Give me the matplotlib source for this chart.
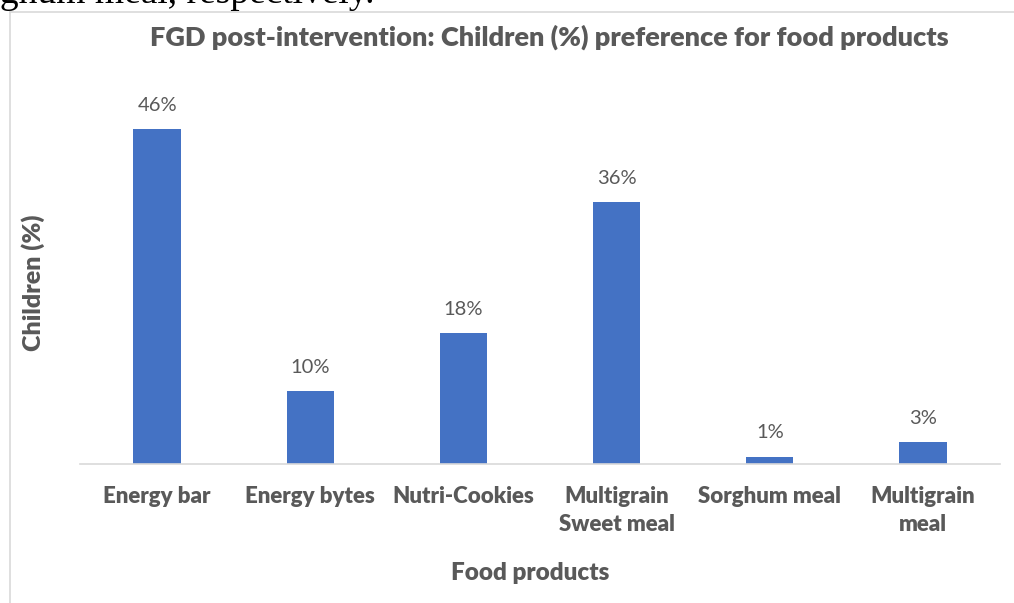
import matplotlib.pyplot as plt
from matplotlib.lines import Line2D

# Data
products = ["Energy bar", "Energy bytes", "Nutri-Cookies",
            "Multigrain\nSweet meal", "Sorghum meal", "Multigrain\nmeal"]
children_pct = [46, 10, 18, 36, 1, 3]

W, H = 1014, 603
bar_color = "#4472C4"
text_color = "#595959"
font = ["Lato", "DejaVu Sans"]
bold = "heavy"

fig = plt.figure(figsize=(W / 100, H / 100), dpi=100)
ax = fig.add_axes([80.5 / W, 1 - 464 / H, 919 / W, 364 / H])

x = range(len(products))
bars = ax.bar(x, children_pct, width=0.31, color=bar_color)
ax.set_xlim(-0.5, len(products) - 0.5)
ax.set_ylim(0, 50)

for b, v in zip(bars, children_pct):
    ax.annotate(f"{v}%", (b.get_x() + b.get_width() / 2, v),
                xytext=(0, 11), textcoords="offset points",
                ha="center", va="bottom", fontsize=14.5,
                color=text_color, family=font)

ax.set_xticks(list(x))
ax.set_xticklabels(products, fontsize=16, fontweight=bold,
                   color=text_color, family=font, linespacing=1.4)
ax.tick_params(axis="x", length=0, pad=16)
ax.set_yticks([])

for s in ["top", "right", "left"]:
    ax.spines[s].set_visible(False)
ax.spines["bottom"].set_color("#D9D9D9")
ax.spines["bottom"].set_linewidth(1.2)

# labels and title
fig.text(549 / W, 1 - 37 / H,
         "FGD post-intervention: Children (%) preference for food products",
         ha="center", va="center", fontsize=19.5, fontweight=bold,
         color=text_color, family=font)
fig.text(33 / W, 1 - 283 / H, "Children (%)", rotation=90,
         ha="center", va="center", fontsize=18, fontweight=bold,
         color=text_color, family=font)
fig.text(530 / W, 1 - 573 / H, "Food products",
         ha="center", va="center", fontsize=17.5, fontweight=bold,
         color=text_color, family=font)

# chart frame and cropped document text above it
fig.add_artist(Line2D([10 / W, 10 / W], [0, 1 - 12 / H],
                      transform=fig.transFigure, color="#D9D9D9", lw=1.2))
fig.add_artist(Line2D([10 / W, 1], [1 - 12 / H, 1 - 12 / H],
                      transform=fig.transFigure, color="#D9D9D9", lw=1.2))
fig.text(-12 / W, 1 - 3 / H, "rghum meal, respectively.",
         ha="left", va="baseline", fontsize=27,
         family=["Liberation Serif", "DejaVu Serif"], color="black")

fig.savefig("out.png", dpi=100)
